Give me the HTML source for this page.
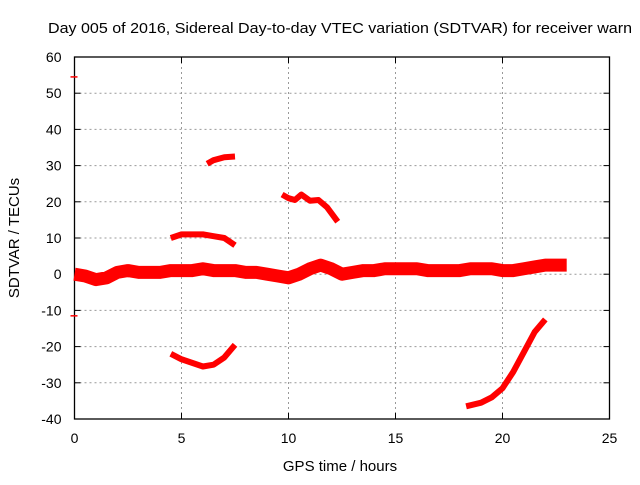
<!DOCTYPE html>
<html><head><meta charset="utf-8"><style>
body{margin:0;background:#fff;width:640px;height:480px;overflow:hidden}
svg text{font-family:"Liberation Sans",sans-serif;font-size:14px;fill:#000}
</style></head><body>
<svg width="640" height="480">
<script>
const xTicks=[0,5,10,15,20,25];
const yTicks=[-40,-30,-20,-10,0,10,20,30,40,50,60];
const bandT=[0,0.5,1,1.5,2,2.5,3,3.5,4,4.5,5,5.5,6,6.5,7,7.5,8,8.5,9,9.5,10,10.5,11,11.5,12,12.5,13,13.5,14,14.5,15,15.5,16,16.5,17,17.5,18,18.5,19,19.5,20,20.5,21,21.5,22,22.5,23];
const bandV=[0,-0.5,-1.5,-1,0.5,1,0.5,0.5,0.5,1,1,1,1.5,1,1,1,0.5,0.5,0,-0.5,-1,0,1.5,2.5,1.5,0,0.5,1,1,1.5,1.5,1.5,1.5,1,1,1,1,1.5,1.5,1.5,1,1,1.5,2,2.5,2.5,2.5];
const arc1T=[4.5,5,5.5,6,6.5,7,7.5], arc1V=[10,11,11,11,10.5,10,8];
const arc2T=[6.2,6.5,7,7.5], arc2V=[30.5,31.5,32.3,32.5];
const arc3T=[9.7,10,10.3,10.6,11,11.4,11.8,12.3], arc3V=[22,21,20.5,22,20.3,20.5,18.5,14.5];
const arc4T=[4.5,5,5.5,6,6.5,7,7.5], arc4V=[-22,-23.5,-24.5,-25.5,-25,-23,-19.5];
const arc5T=[18.3,19,19.5,20,20.5,21,21.5,22], arc5V=[-36.5,-35.5,-34,-31.5,-27,-21.5,-16,-12.5];
const dotsT=[0,0], dotsV=[54.5,-11.5];
</script>
<g id="g"></g>
<text x="48" y="33" textLength="584" lengthAdjust="spacingAndGlyphs" style="font-size:15px">Day 005 of 2016, Sidereal Day-to-day VTEC variation (SDTVAR) for receiver warn</text>
<text x="340" y="471" text-anchor="middle" style="font-size:15px">GPS time / hours</text>
<text transform="translate(19,238) rotate(-90)" text-anchor="middle" style="font-size:15px">SDTVAR / TECUs</text>
<script>
const NS='http://www.w3.org/2000/svg';
const g=document.getElementById('g');
const L=74.5,R=609.5,T=57,B=419;
const sx=t=>L+(t-0)/25*(R-L);
const sy=v=>B-(v+40)/100*(B-T);
function mk(tag,at){const e=document.createElementNS(NS,tag);for(const k in at)e.setAttribute(k,at[k]);g.appendChild(e);return e;}
xTicks.forEach(t=>{
 if(t>0&&t<25){const l=mk('line',{x1:sx(t),x2:sx(t),y1:T,y2:B,stroke:'#999','stroke-dasharray':'2,3'});
 
 }
 const tx=mk('text',{x:sx(t),y:B+24,'text-anchor':'middle'});tx.textContent=t;
 
 
 mk('line',{x1:sx(t),x2:sx(t),y1:B,y2:B-6,stroke:'#000'});
 mk('line',{x1:sx(t),x2:sx(t),y1:T,y2:T+6,stroke:'#000'});
});
yTicks.forEach(v=>{
 if(v>-40&&v<60){const l=mk('line',{x1:L,x2:R,y1:sy(v),y2:sy(v),stroke:'#999','stroke-dasharray':'2,3'});
 
 }
 const tx=mk('text',{x:L-13,y:sy(v)+5,'text-anchor':'end'});tx.textContent=v;
 
 
 mk('line',{x1:L,x2:L+6,y1:sy(v),y2:sy(v),stroke:'#000'});
 mk('line',{x1:R,x2:R-6,y1:sy(v),y2:sy(v),stroke:'#000'});
});
const fr=mk('rect',{x:L,y:T,width:R-L,height:B-T,fill:'none',stroke:'#000','stroke-width':1.3});


function series(ts,vs,w,name){
 const p=mk('polyline',{points:ts.map((t,i)=>sx(t)+','+sy(vs[i])).join(' '),fill:'none',stroke:'#f00','stroke-width':w,'stroke-linejoin':'round'});
 
 
}
series(bandT,bandV,13,'band-series');
series(arc1T,arc1V,6,'arc-series-1');
series(arc2T,arc2V,6,'arc-series-2');
series(arc3T,arc3V,6,'arc-series-3');
series(arc4T,arc4V,6,'arc-series-4');
series(arc5T,arc5V,6,'arc-series-5');
dotsT.forEach((t,i)=>{const d=mk('line',{x1:sx(t)-4,x2:sx(t)+3,y1:sy(dotsV[i]),y2:sy(dotsV[i]),stroke:'#f00','stroke-width':1.5});
 
 });
</script>
</svg>
</body></html>
